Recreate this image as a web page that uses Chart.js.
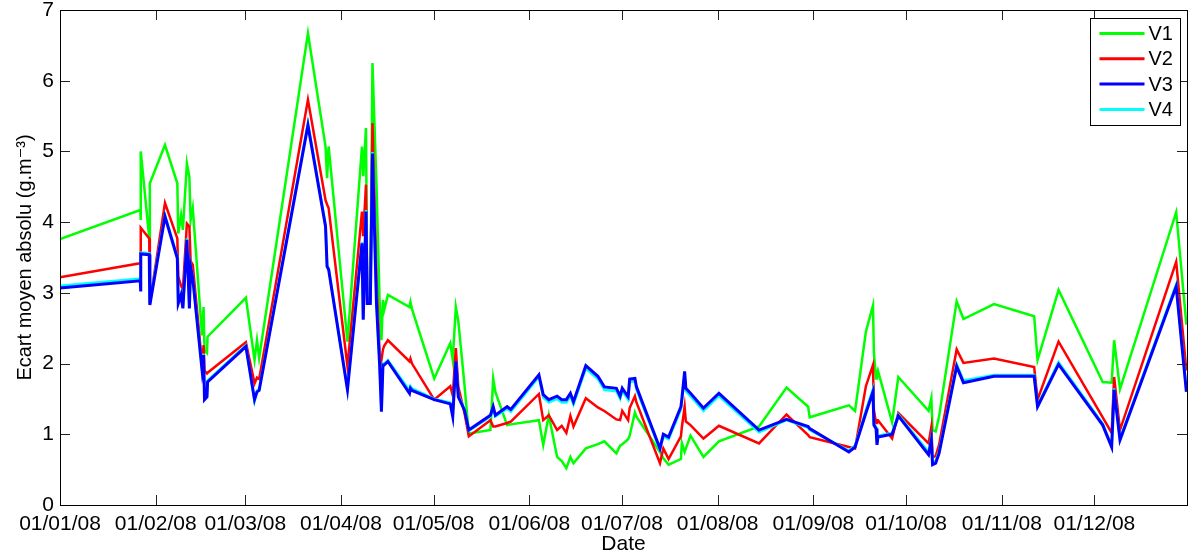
<!DOCTYPE html>
<html>
<head>
<meta charset="utf-8">
<title>Ecart moyen absolu</title>
<script src="https://cdn.jsdelivr.net/npm/chart.js@4.4.0/dist/chart.umd.min.js"></script>
<style>
    body { margin: 0; background: #fff; }
    #chart { display: block; }
</style>
</head>
<body>
<canvas id="chart" width="1193" height="555"></canvas>
<script>
// Days since 01/01/08 for every measurement
const days = [
    0, 26.0, 26.1, 26.2, 28.9, 29.1, 34.0, 38.0, 38.3, 39.2,
    39.8, 41.1, 41.9, 42.3, 43.0, 46.0, 46.5, 46.8, 47.6, 47.8,
    60.2, 63.0, 63.8, 64.5, 80.3, 86.0, 86.5, 87.0, 93.1, 97.8,
    98.2, 99.1, 99.5, 100.5, 101.2, 102.5, 103.5, 104.1, 104.6, 105.0,
    106.2, 113.2, 113.5, 114.0, 121.2, 126.4, 127.2, 128.2, 129.0, 131.0,
    132.4, 139.4, 140.3, 141.0, 144.8, 146.0, 155.1, 156.5, 158.3, 161.0,
    162.5, 164.0, 165.3, 166.3, 170.3, 174.2, 176.3, 180.2, 181.4, 182.1,
    184.0, 184.5, 186.2, 186.7, 194.3, 195.4, 197.1, 201.1, 201.4, 202.3,
    202.7, 204.2, 208.4, 213.4, 226.4, 235.3, 242.3, 242.8, 255.5, 257.5,
    261.0, 263.3, 263.6, 264.3, 264.6, 264.9, 269.5, 271.5, 281.3, 282.2,
    282.6, 283.6, 284.7, 290.4, 292.6, 302.5, 315.5, 316.6, 323.4, 337.7,
    340.6, 341.4, 343.3, 361.5, 364.8
];

const v1 = [
    3.76, 4.17, 4.03, 5.00, 3.78, 4.55, 5.09, 4.55, 3.84, 4.10,
    3.89, 4.83, 4.64, 4.03, 4.20, 2.40, 2.80, 2.19, 2.15, 2.38,
    2.93, 2.05, 2.33, 2.08, 6.67, 5.07, 4.62, 5.07, 2.31, 5.07,
    4.65, 5.33, 2.95, 2.90, 6.25, 4.52, 2.90, 2.33, 2.90, 2.76,
    2.97, 2.80, 2.87, 2.77, 1.79, 2.29, 2.05, 2.80, 2.60, 1.70,
    1.01, 1.06, 1.79, 1.60, 1.13, 1.14, 1.20, 0.85, 1.27, 0.68,
    0.62, 0.52, 0.68, 0.59, 0.80, 0.86, 0.90, 0.73, 0.84, 0.86,
    0.93, 0.98, 1.31, 1.25, 0.75, 0.66, 0.57, 0.65, 0.88, 0.75,
    0.80, 0.98, 0.68, 0.90, 1.11, 1.66, 1.39, 1.24, 1.41, 1.33,
    2.45, 2.82, 2.15, 1.79, 1.85, 1.90, 1.17, 1.81, 1.33, 1.51,
    1.06, 1.04, 1.25, 2.88, 2.63, 2.84, 2.67, 2.05, 3.04, 1.74,
    1.73, 2.33, 1.64, 4.14, 2.55
];

const v2 = [
    3.22, 3.42, 3.40, 3.92, 3.77, 2.85, 4.27, 3.77, 3.23, 3.10,
    3.05, 3.98, 3.94, 3.45, 3.40, 2.00, 2.26, 1.90, 1.86, 1.87,
    2.30, 1.72, 1.80, 1.78, 5.73, 4.31, 4.25, 4.20, 1.96, 4.15,
    3.80, 4.53, 2.90, 2.90, 5.40, 3.20, 2.15, 2.05, 2.20, 2.25,
    2.33, 2.03, 2.07, 2.00, 1.49, 1.68, 1.55, 2.22, 1.67, 1.30,
    0.97, 1.20, 1.11, 1.11, 1.16, 1.18, 1.57, 1.20, 1.27, 1.06,
    1.12, 1.02, 1.26, 1.11, 1.51, 1.38, 1.33, 1.21, 1.20, 1.33,
    1.20, 1.37, 1.54, 1.45, 0.59, 0.80, 0.65, 0.97, 1.10, 1.39,
    1.18, 1.13, 0.94, 1.12, 0.87, 1.28, 0.99, 0.96, 0.82, 0.80,
    1.68, 1.98, 1.34, 1.16, 1.20, 1.20, 0.94, 1.30, 0.87, 1.10,
    0.68, 0.69, 0.85, 2.20, 2.01, 2.07, 1.95, 1.49, 2.31, 1.24,
    1.02, 1.81, 1.06, 3.44, 1.90
];

const v3 = [
    3.07, 3.17, 3.02, 3.55, 3.54, 2.83, 4.08, 3.49, 2.85, 2.97,
    2.78, 3.75, 2.78, 3.37, 3.20, 1.91, 2.12, 1.49, 1.53, 1.74,
    2.24, 1.49, 1.60, 1.62, 5.37, 3.94, 3.37, 3.33, 1.63, 3.70,
    2.62, 4.15, 2.85, 2.85, 4.97, 2.85, 2.00, 1.32, 1.98, 1.98,
    2.03, 1.58, 1.65, 1.62, 1.49, 1.43, 1.25, 2.03, 1.53, 1.34,
    1.06, 1.27, 1.39, 1.27, 1.39, 1.35, 1.84, 1.56, 1.49, 1.54,
    1.49, 1.49, 1.58, 1.46, 1.97, 1.82, 1.67, 1.65, 1.54, 1.65,
    1.53, 1.78, 1.79, 1.67, 0.80, 1.00, 0.96, 1.39, 1.50, 1.89,
    1.65, 1.58, 1.37, 1.58, 1.06, 1.21, 1.11, 1.08, 0.75, 0.82,
    1.30, 1.60, 1.13, 1.08, 0.85, 0.96, 1.00, 1.26, 0.71, 0.92,
    0.57, 0.59, 0.73, 1.96, 1.73, 1.82, 1.82, 1.39, 1.99, 1.13,
    0.82, 1.63, 0.92, 3.09, 1.60
];

const v4 = [
    3.10, 3.20, 3.05, 3.57, 3.56, 2.86, 4.10, 3.51, 2.88, 2.99,
    2.80, 3.77, 2.80, 3.39, 3.22, 1.93, 2.14, 1.51, 1.55, 1.76,
    2.26, 1.47, 1.62, 1.64, 5.40, 3.96, 3.39, 3.35, 1.65, 3.72,
    2.64, 4.17, 2.87, 2.87, 4.99, 2.87, 2.02, 1.34, 2.00, 2.00,
    2.05, 1.62, 1.68, 1.65, 1.50, 1.45, 1.27, 2.03, 1.55, 1.36,
    1.05, 1.25, 1.37, 1.25, 1.36, 1.32, 1.81, 1.52, 1.45, 1.50,
    1.45, 1.45, 1.54, 1.42, 1.93, 1.78, 1.63, 1.61, 1.50, 1.61,
    1.49, 1.74, 1.75, 1.63, 0.78, 0.97, 0.93, 1.35, 1.46, 1.85,
    1.61, 1.54, 1.33, 1.54, 1.03, 1.20, 1.09, 1.06, 0.77, 0.84,
    1.34, 1.64, 1.16, 1.10, 0.88, 0.98, 1.02, 1.28, 0.75, 0.95,
    0.60, 0.62, 0.76, 1.99, 1.76, 1.84, 1.84, 1.41, 2.02, 1.15,
    0.84, 1.65, 0.94, 3.12, 1.62
];

const seriesNames = ['V1', 'V2', 'V3', 'V4'];
const seriesColors = ['#00ff00', '#ff0000', '#0000ff', '#00ffff'];

// Month starts (days since 01/01/08) and their labels
const monthDays = [0, 31, 60, 91, 121, 152, 182, 213, 244, 274, 305, 335];
const monthLabels = ['01/01/08', '01/02/08', '01/03/08', '01/04/08', '01/05/08', '01/06/08',
    '01/07/08', '01/08/08', '01/09/08', '01/10/08', '01/11/08', '01/12/08'];
const yTicks = [0, 1, 2, 3, 4, 5, 6, 7];

const fontFamily = "'Liberation Sans', Arial, Helvetica, 'DejaVu Sans', sans-serif";

function toPoints(values) {
    return values.map((v, i) => ({ x: days[i], y: v }));
}

// Box around the plot with inward tick marks, like a matlab axes
const boxPlugin = {
    id: 'boxPlugin',
    afterDatasetsDraw(chart) {
        const { ctx, chartArea } = chart;
        const xScale = chart.scales.x;
        const yScale = chart.scales.y;
        const tick = 10;
        ctx.save();
        ctx.strokeStyle = '#222';
        ctx.lineWidth = 1;
        ctx.beginPath();
        monthDays.forEach(d => {
            const px = Math.round(xScale.getPixelForValue(d)) + 0.5;
            ctx.moveTo(px, chartArea.bottom);
            ctx.lineTo(px, chartArea.bottom - tick);
            ctx.moveTo(px, chartArea.top);
            ctx.lineTo(px, chartArea.top + tick);
        });
        yTicks.forEach(v => {
            const py = Math.round(yScale.getPixelForValue(v)) + 0.5;
            ctx.moveTo(chartArea.left, py);
            ctx.lineTo(chartArea.left + tick, py);
            ctx.moveTo(chartArea.right, py);
            ctx.lineTo(chartArea.right - tick, py);
        });
        ctx.stroke();
        ctx.strokeStyle = '#000';
        ctx.strokeRect(Math.round(chartArea.left) + 0.5, Math.round(chartArea.top) + 0.5,
            Math.round(chartArea.right - chartArea.left), Math.round(chartArea.bottom - chartArea.top));
        ctx.restore();
    }
};

// Legend box in the top right corner of the plot
const legendPlugin = {
    id: 'legendPlugin',
    afterDraw(chart) {
        const { ctx, chartArea } = chart;
        const boxW = 90;
        const boxH = 107;
        const left = Math.round(chartArea.right - 7 - boxW) + 0.5;
        const top = Math.round(chartArea.top + 8) + 0.5;
        ctx.save();
        ctx.fillStyle = '#fff';
        ctx.fillRect(left, top, boxW, boxH);
        ctx.strokeStyle = '#000';
        ctx.lineWidth = 1;
        ctx.strokeRect(left, top, boxW, boxH);
        ctx.font = '20px ' + fontFamily;
        ctx.textBaseline = 'middle';
        ctx.textAlign = 'left';
        chart.data.datasets.forEach((ds, i) => {
            const y = top + 15 + i * 25.3;
            ctx.strokeStyle = ds.borderColor;
            ctx.lineWidth = 3;
            ctx.beginPath();
            ctx.moveTo(left + 9, y);
            ctx.lineTo(left + 54, y);
            ctx.stroke();
            ctx.fillStyle = '#000';
            ctx.fillText(ds.label, left + 58, y + 1);
        });
        ctx.restore();
    }
};

const seriesValues = [v1, v2, v3, v4];
const datasets = seriesValues.map((values, i) => ({
    label: seriesNames[i],
    data: toPoints(values),
    borderColor: seriesColors[i],
    backgroundColor: seriesColors[i],
    borderWidth: i === 2 ? 3 : 2.5,
    pointRadius: 0,
    tension: 0,
    fill: false,
    order: [3, 2, 0, 1][i]
}));

const ctx = document.getElementById('chart').getContext('2d');
const chart = new Chart(ctx, {
    type: 'line',
    data: { datasets: datasets },
    options: {
        responsive: false,
        animation: false,
        devicePixelRatio: 1,
        layout: { padding: { left: 0, top: 10, right: 6, bottom: 0 } },
        plugins: {
            legend: { display: false },
            tooltip: { enabled: false }
        },
        scales: {
            x: {
                type: 'linear',
                min: 0,
                max: 365,
                grid: { display: false, drawTicks: false },
                border: { display: false },
                afterBuildTicks: (scale) => {
                    scale.ticks = monthDays.map(d => ({ value: d }));
                },
                afterFit: (scale) => {
                    scale.height = 50;
                    scale.paddingLeft = 0;
                    scale.paddingRight = 0;
                },
                ticks: {
                    autoSkip: false,
                    maxRotation: 0,
                    padding: 7,
                    color: '#000',
                    font: { family: fontFamily, size: 21 },
                    callback: (value) => monthLabels[monthDays.indexOf(value)]
                },
                title: {
                    display: true,
                    text: 'Date',
                    color: '#000',
                    padding: { top: 0, bottom: 0 },
                    font: { family: fontFamily, size: 21, lineHeight: 1 }
                }
            },
            y: {
                min: 0,
                max: 7,
                grid: { display: false, drawTicks: false },
                border: { display: false },
                afterBuildTicks: (scale) => {
                    scale.ticks = yTicks.map(v => ({ value: v }));
                },
                afterFit: (scale) => {
                    scale.width = 60;
                    scale.paddingTop = 0;
                    scale.paddingBottom = 0;
                },
                ticks: {
                    padding: 6,
                    color: '#000',
                    font: { family: fontFamily, size: 21 }
                },
                title: {
                    display: true,
                    text: 'Ecart moyen absolu (g.m\u207B\u00B3)',
                    color: '#000',
                    padding: { top: 13, bottom: 0 },
                    font: { family: fontFamily, size: 20 }
                }
            }
        }
    },
    plugins: [boxPlugin, legendPlugin]
});
</script>
</body>
</html>
